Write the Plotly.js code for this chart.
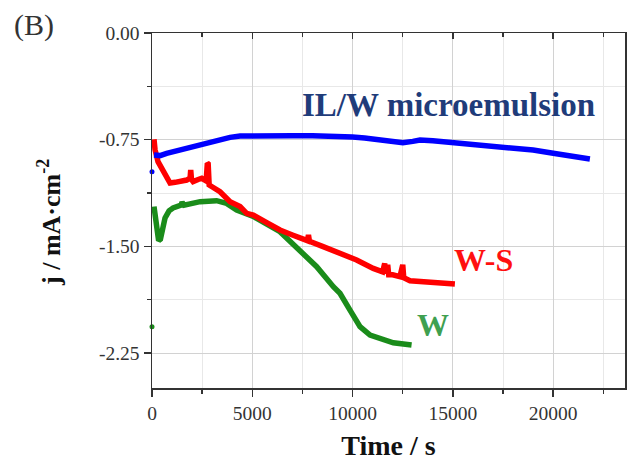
<!DOCTYPE html>
<html>
<head>
<meta charset="utf-8">
<script src="https://cdn.plot.ly/plotly-3.0.1.min.js"></script>
<style>html,body{margin:0;padding:0;background:#fff;}#chart{width:627px;height:464px;}</style>
</head>
<body>
<div id="chart"></div>
<script>
// Time / s and current density j / mA·cm-2
const blueT = [100, 400, 730, 1050, 1400, 1800, 2230, 2650, 3050, 3500, 3890, 4390, 5000, 5880, 7000, 8000, 9000, 9530, 10000, 10600, 11220, 11800, 12510, 13000, 13360, 14000, 15350, 16000, 17350, 18000, 19000, 20000, 21000, 21830];
const blueJ = [-0.858, -0.862, -0.846, -0.835, -0.823, -0.806, -0.788, -0.772, -0.757, -0.745, -0.734, -0.724, -0.722, -0.722, -0.722, -0.722, -0.724, -0.729, -0.732, -0.738, -0.748, -0.758, -0.771, -0.762, -0.752, -0.758, -0.776, -0.780, -0.800, -0.806, -0.823, -0.846, -0.866, -0.886];

const redT = [100, 150, 300, 550, 900, 1150, 1400, 1730, 1900, 1930, 1970, 2050, 2300, 2480, 2700, 2760, 2800, 2850, 3100, 3390, 3890, 4390, 4720, 5050, 5720, 6380, 7000, 7750, 7800, 7850, 8500, 9370, 10200, 11030, 11500, 11600, 11650, 11750, 11800, 12000, 12360, 12500, 12550, 12860, 14010, 15100];
const redJ = [-0.748, -0.82, -0.905, -0.975, -1.055, -1.05, -1.045, -1.034, -1.02, -0.963, -1.03, -1.045, -1.03, -1.022, -1.04, -0.916, -0.92, -1.069, -1.09, -1.116, -1.186, -1.22, -1.268, -1.28, -1.333, -1.385, -1.42, -1.46, -1.42, -1.465, -1.50, -1.55, -1.596, -1.655, -1.68, -1.62, -1.69, -1.63, -1.70, -1.70, -1.713, -1.63, -1.72, -1.742, -1.749, -1.765];

const greenT = [100, 180, 250, 330, 420, 520, 650, 850, 1050, 1450, 1500, 1600, 2400, 3220, 3720, 4220, 4890, 5050, 6380, 7380, 8210, 9040, 9370, 9870, 10370, 10870, 11530, 12030, 12940];
const greenJ = [-1.22, -1.30, -1.40, -1.46, -1.45, -1.38, -1.30, -1.25, -1.23, -1.21, -1.19, -1.21, -1.186, -1.179, -1.198, -1.245, -1.28, -1.29, -1.397, -1.526, -1.643, -1.784, -1.83, -1.948, -2.065, -2.124, -2.159, -2.178, -2.194];

// isolated first readings at t = 0
const blueStartT = [0];
const blueStartJ = [-0.975];
const greenStartT = [0];
const greenStartJ = [-2.065];

const yTickVals = [0, -0.75, -1.5, -2.25];
const yTickText = ["0.00", "-0.75", "-1.50", "-2.25"];
const xTickVals = [0, 5000, 10000, 15000, 20000];
const xTickText = ["0", "5000", "10000", "15000", "20000"];
const emptyArr = [];

const serif = "Liberation Serif, Times New Roman, serif";
const BLUE = "#0000ff", RED = "#ff0000", GREEN = "#1a8c1a";

const traces = [
  {x: greenT, y: greenJ, type: "scatter", mode: "lines", line: {color: GREEN, width: 5.5}, hoverinfo: "skip"},
  {x: redT, y: redJ, type: "scatter", mode: "lines", line: {color: RED, width: 5.5}, hoverinfo: "skip"},
  {x: blueT, y: blueJ, type: "scatter", mode: "lines", line: {color: BLUE, width: 5.5}, hoverinfo: "skip"},
  {x: blueStartT, y: blueStartJ, type: "scatter", mode: "markers", marker: {color: BLUE, size: 5}, cliponaxis: false, hoverinfo: "skip"},
  {x: greenStartT, y: greenStartJ, type: "scatter", mode: "markers", marker: {color: GREEN, size: 5}, cliponaxis: false, hoverinfo: "skip"},
  {x: emptyArr, y: emptyArr, xaxis: "x2", type: "scatter", mode: "lines", hoverinfo: "skip"}
];

const W = 627, H = 464;
const mL = 152, mR = 2, mT = 33, mB = 76;
const pw = W - mL - mR, ph = H - mT - mB;
const px = v => (v - mL) / pw;
const py = v => (H - mB - v) / ph;

const layout = {
  width: W, height: H,
  margin: {l: mL, r: mR, t: mT, b: mB},
  paper_bgcolor: "#ffffff", plot_bgcolor: "#ffffff",
  showlegend: false,
  font: {family: serif, color: "#333333", size: 19},
  xaxis: {
    range: [0, 23580], tickvals: xTickVals, ticktext: xTickText,
    ticks: "outside", ticklen: 7, tickwidth: 1.5, tickcolor: "#333",
    showline: true, linecolor: "#333", linewidth: 1.5, zeroline: false,
    showgrid: true, gridcolor: "#d2d2d2", gridwidth: 1,
    minor: {dtick: 2500, tick0: 0, ticks: "outside", ticklen: 4, tickcolor: "#333", showgrid: true, gridcolor: "#e8e8e8"},
    tickfont: {family: serif, size: 19.5, color: "#333"},
    title: {text: "<b>Time / s</b>", font: {family: serif, size: 28, color: "#111"}, standoff: 12}
  },
  xaxis2: {
    overlaying: "x", side: "top", matches: "x", range: [0, 23580],
    tickvals: xTickVals, showticklabels: false, ticks: "inside", ticklen: 6, tickwidth: 1.5, tickcolor: "#333",
    minor: {dtick: 2500, tick0: 0, ticks: "inside", ticklen: 4, tickcolor: "#333"},
    showline: true, linecolor: "#333", linewidth: 1.5, showgrid: false, zeroline: false
  },
  yaxis: {
    range: [-2.496, 0], tickvals: yTickVals, ticktext: yTickText,
    ticks: "outside", ticklen: 7, tickwidth: 1.5, tickcolor: "#333",
    showline: true, linecolor: "#333", linewidth: 1.5, mirror: "ticks", zeroline: false,
    showgrid: true, gridcolor: "#d2d2d2", gridwidth: 1,
    minor: {dtick: 0.375, tick0: 0, ticks: "outside", ticklen: 4, tickcolor: "#333", showgrid: true, gridcolor: "#e8e8e8"},
    tickfont: {family: serif, size: 19.5, color: "#333"}
  },
  annotations: [
    {xref: "paper", yref: "paper", x: px(50), y: py(223), text: "<b>j / mA·cm<sup>-2</sup></b>", textangle: -90,
     showarrow: false, font: {family: serif, size: 26, color: "#111"}, xanchor: "center", yanchor: "middle"},
    {xref: "paper", yref: "paper", x: px(34), y: py(25), text: "(B)", showarrow: false,
     font: {family: serif, size: 30, color: "#333"}, xanchor: "center", yanchor: "middle"},
    {x: 14760, y: -0.506, text: "<b>IL/W microemulsion</b>", showarrow: false,
     font: {family: serif, size: 33, color: "#1f3c7a"}, xanchor: "center", yanchor: "middle"},
    {x: 16550, y: -1.596, text: "<b>W-S</b>", showarrow: false,
     font: {family: serif, size: 32, color: "#ff1010"}, xanchor: "center", yanchor: "middle"},
    {x: 14010, y: -2.053, text: "<b>W</b>", showarrow: false,
     font: {family: serif, size: 32, color: "#3fa050"}, xanchor: "center", yanchor: "middle"}
  ]
};

Plotly.newPlot("chart", traces, layout, {staticPlot: true, displayModeBar: false});
</script>
</body>
</html>
